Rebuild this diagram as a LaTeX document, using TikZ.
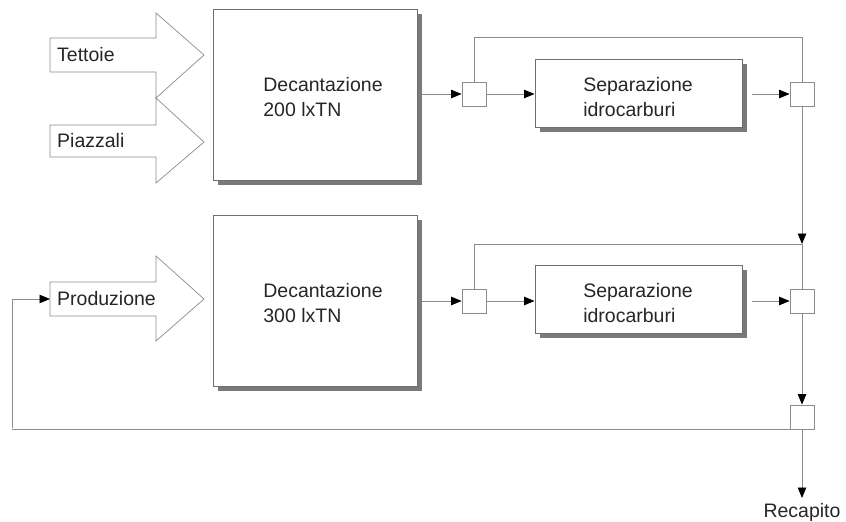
\documentclass[tikz,border=0pt]{standalone}
\usepackage{fontspec}
\setmainfont{Liberation Sans}
\usetikzlibrary{arrows.meta,shadows}

\definecolor{linegray}{HTML}{8C8C8C}
\definecolor{boxline}{HTML}{6E6E6E}
\definecolor{shadowgray}{HTML}{7A7A7A}

\tikzset{
  txt/.style={font=\fontsize{19.5}{25}\selectfont, text=black!85},
  boxtext/.style={txt, align=left, inner sep=0pt},
  tankbox/.style={draw=boxline, fill=white, line width=0.9pt,
    minimum width=204pt, minimum height=171pt, inner sep=0pt,
    drop shadow={shadow xshift=5pt, shadow yshift=-5pt, fill=shadowgray, opacity=1}},
  sepbox/.style={draw=boxline, fill=white, line width=0.9pt,
    minimum width=207pt, minimum height=68pt, inner sep=0pt,
    drop shadow={shadow xshift=5pt, shadow yshift=-5pt, fill=shadowgray, opacity=1}},
  valve/.style={draw=linegray, fill=white, line width=0.8pt,
    minimum width=24pt, minimum height=24pt, inner sep=0pt},
  inflow/.style={draw=linegray, fill=white, line width=0.7pt},
  pipe/.style={draw=linegray, line width=0.9pt},
  flow/.style={pipe, -{Triangle[length=10.5pt,width=8.5pt,color=black]}},
  label/.style={txt, anchor=west, inner sep=0pt}
}

\begin{document}
\begin{tikzpicture}[x=1pt,y=-1pt]
\useasboundingbox (0,0) rectangle (846,522);

% incoming flows (block arrows)
\draw[inflow] (50,38) -- (156,38) -- (156,13) -- (204,55) -- (156,98)
  -- (156,72) -- (50,72) -- cycle;
\draw[inflow] (50,125) -- (156,125) -- (156,98) -- (204,142) -- (156,183)
  -- (156,157) -- (50,157) -- cycle;
\draw[inflow] (50,282) -- (156,282) -- (156,256) -- (204,299) -- (156,341)
  -- (156,316) -- (50,316) -- cycle;
\node[label] (tettoie)    at (57,55)  {Tettoie};
\node[label] (piazzali)   at (57,141) {Piazzali};
\node[label] (produzione) at (57,299) {Produzione};
\coordinate (prodin) at (50,299);

% settling tanks
\node[tankbox] (dec1) at (315,94.5)  {};
\node[tankbox] (dec2) at (315,300.5) {};
\node[boxtext] (dec1t) at (323,97)  {Decantazione\\200 lxTN};
\node[boxtext] (dec2t) at (323,303) {Decantazione\\300 lxTN};

% oil separators
\node[sepbox] (sep1) at (638.5,93)  {};
\node[sepbox] (sep2) at (638.5,299) {};
\node[boxtext] (sep1t) at (638,97)  {Separazione\\idrocarburi};
\node[boxtext] (sep2t) at (638,303) {Separazione\\idrocarburi};

% junction boxes
\node[valve] (v1) at (474,94)  {};
\node[valve] (v2) at (802,94)  {};
\node[valve] (v3) at (474,301) {};
\node[valve] (v4) at (802,301) {};
\node[valve] (v5) at (802,417) {};

\coordinate (top1) at (474,37);
\coordinate (top2) at (474,244);
\coordinate (join) at (802,244);
\coordinate (loopL) at (12,428);
\coordinate (out) at (802,498);

% first line
\draw[flow] ([xshift=5pt]dec1.east |- v1) -- (v1.west);
\draw[flow] (v1.east) -- (sep1.west |- v1);
\draw[flow] ([xshift=10pt]sep1.east |- v2) -- (v2.west);
\draw[pipe] (v1.north) -- (top1) -- (top1 -| v2) -- (v2.north);

% second line
\draw[flow] ([xshift=5pt]dec2.east |- v3) -- (v3.west);
\draw[flow] (v3.east) -- (sep2.west |- v3);
\draw[flow] ([xshift=10pt]sep2.east |- v4) -- (v4.west);
\draw[pipe] (v3.north) -- (top2) -- (join);
\draw[flow] (v2.south) -- (join);
\draw[pipe] (join) -- (v4.north);
\draw[flow] (v4.south) -- (v5.north);

% recirculation to production and outlet
\draw[pipe, line width=1.6pt] (v5.south west) -- (loopL |- v5.south west);
\draw[flow] (loopL) -- (loopL |- prodin) -- (prodin);
\draw[flow] (v5.south) -- (out);
\node[txt, anchor=north, inner sep=0pt] (recapito) at (802,503) {Recapito};
\end{tikzpicture}
\end{document}
